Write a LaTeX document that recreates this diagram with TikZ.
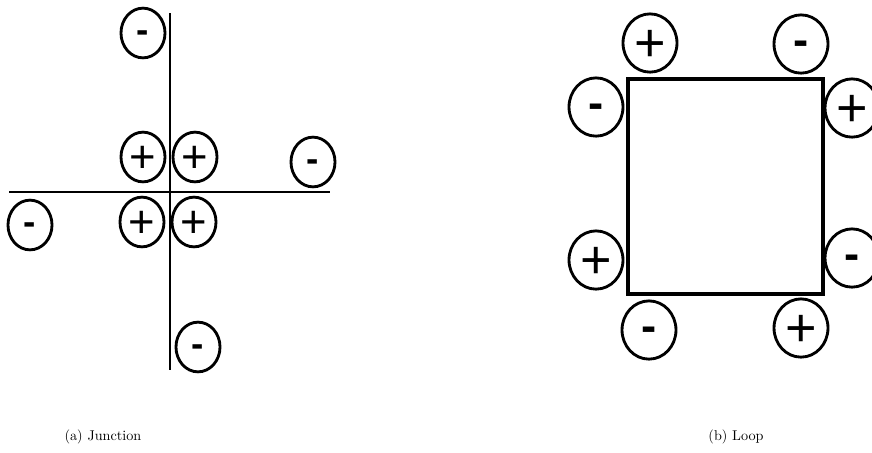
\documentclass[tikz,border=0pt]{standalone}
\usepackage{fontspec}
\newfontfamily\signfont{Liberation Sans}
\usetikzlibrary{shapes.geometric}

\begin{document}
\begin{tikzpicture}[
  x=0.704pt, y=-0.704pt,
  chg/.style={draw,ellipse,line width=2pt,inner sep=0pt,
    minimum width=31pt,minimum height=35pt},
  bigchg/.style={chg,minimum width=38pt,minimum height=41pt},
  plussign/.style={text height=22.4pt,text depth=0pt,
    font=\signfont\fontsize{32}{32}\selectfont},
  minussign/.style={text height=13.3pt,text depth=0pt,
    font=\signfont\bfseries\fontsize{26}{26}\selectfont},
  bigplus/.style={text height=26.6pt,text depth=0pt,
    font=\signfont\fontsize{38}{38}\selectfont},
  bigminus/.style={text height=16.3pt,text depth=0pt,
    font=\signfont\bfseries\fontsize{32}{32}\selectfont},
  wire/.style={line width=2.1pt},
  captxt/.style={font=\normalsize},
]
\useasboundingbox (0,0) rectangle (872,452);

% Junction
\coordinate (vtop) at (170,13);
\coordinate (vbot) at (170,370);
\coordinate (hleft) at (9,192);
\coordinate (hright) at (330,192);
\draw[wire] (vtop) -- (vbot);
\draw[wire] (hleft) -- (hright);

\node[chg,minussign] (jtop) at (143,33) {-};
\node[chg,plussign] (jnw) at (143,157) {+};
\node[chg,plussign] (jne) at (195,157) {+};
\node[chg,plussign] (jsw) at (142,222) {+};
\node[chg,plussign] (jse) at (194,222) {+};
\node[chg,minussign] (jright) at (313,162) {-};
\node[chg,minussign] (jleft) at (30,225) {-};
\node[chg,minussign] (jbot) at (198,347) {-};

% Loop
\node[draw,line width=2.5pt,minimum width=137pt,minimum height=151pt,inner sep=0pt] (loop) at (725.5,186.5) {};

\node[bigchg,bigplus] (ltl) at (650,43) {+};
\node[bigchg,bigminus] (ltr) at (801,44) {-};
\node[bigchg,bigminus] (llt) at (596,107) {-};
\node[bigchg,bigplus] (lrt) at (852,108) {+};
\node[bigchg,bigplus] (llb) at (596,260) {+};
\node[bigchg,bigminus] (lrb) at (852,258) {-};
\node[bigchg,bigminus] (lbl) at (649,330) {-};
\node[bigchg,bigplus] (lbr) at (801,328) {+};

% Captions
\node[captxt] (capa) at (103,437) {(a) Junction};
\node[captxt] (capb) at (736,437) {(b) Loop};

\end{tikzpicture}
\end{document}
